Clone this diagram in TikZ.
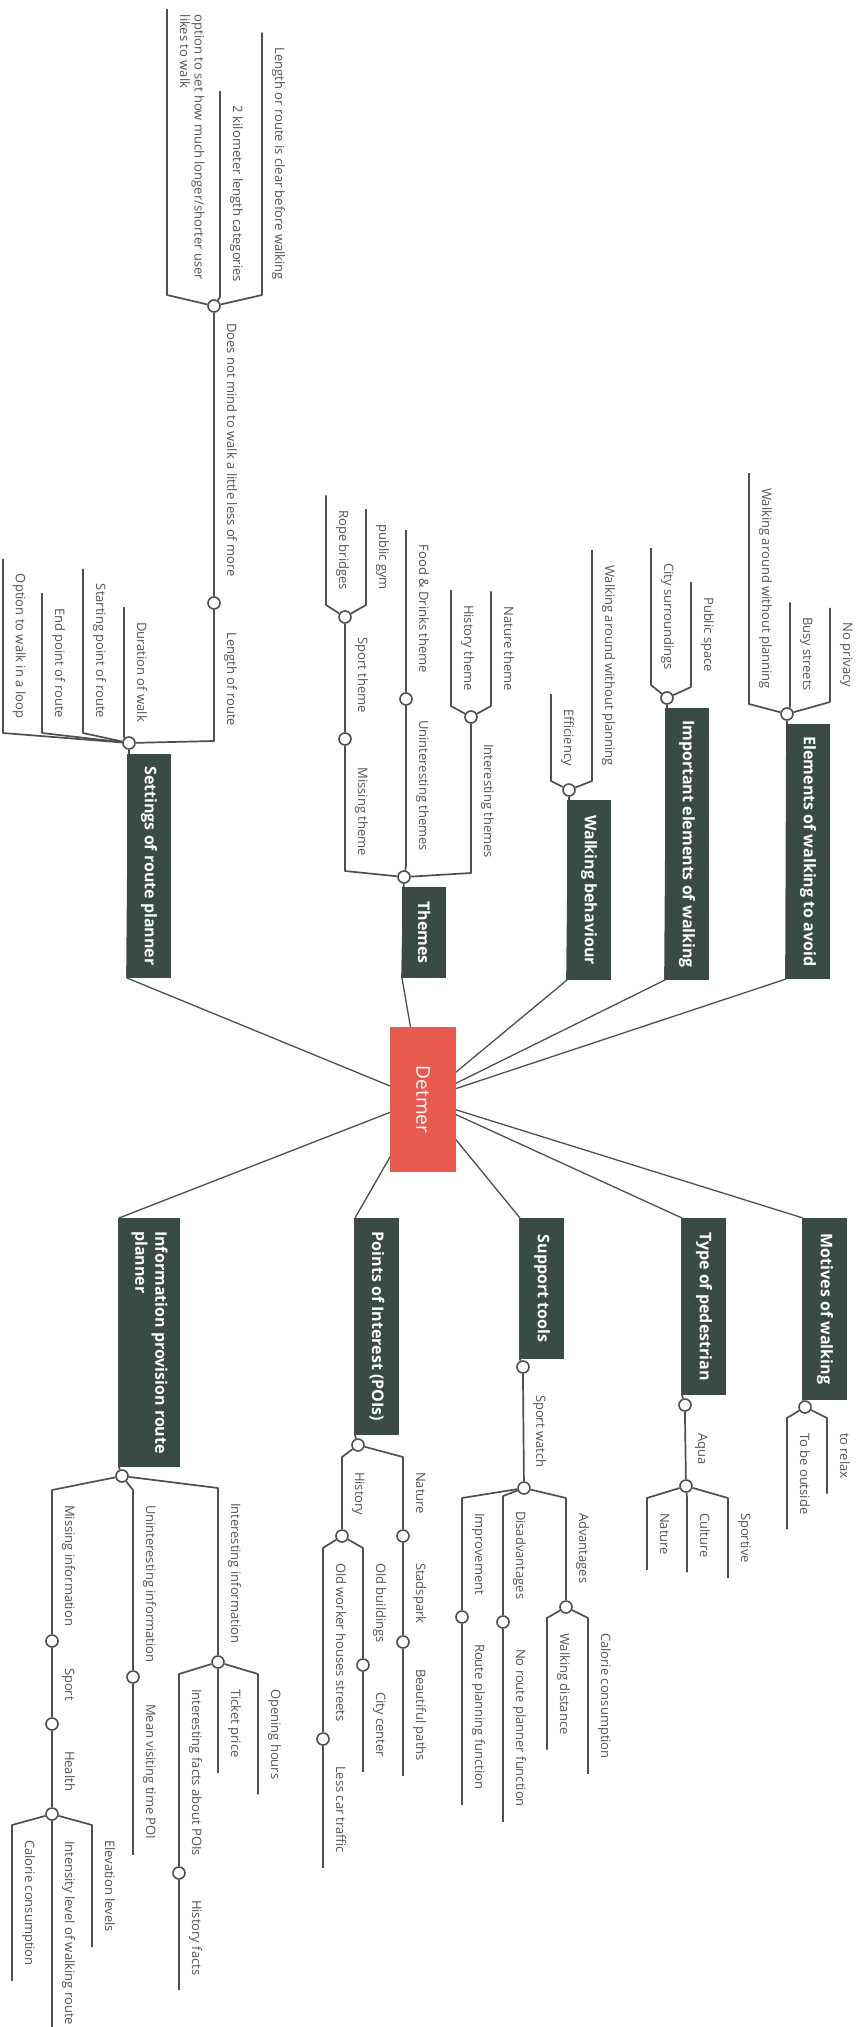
\documentclass[tikz,border=0pt]{standalone}
\usepackage{fontspec}
\setmainfont{Open Sans}
\usetikzlibrary{backgrounds}
\definecolor{rootc}{HTML}{E95A4E}
\definecolor{topicc}{HTML}{3A4A47}
\definecolor{linec}{HTML}{4F4F4F}
\definecolor{labelc}{HTML}{555555}

\begin{document}
\begin{tikzpicture}[x=1pt,y=-1pt,
  rootbox/.style={rotate=-90, fill=rootc, text=white, font=\fontsize{19}{22}\selectfont,
    minimum width=145pt, minimum height=66pt, inner sep=0pt, outer sep=0pt},
  topicbox/.style={rotate=-90, fill=topicc, text=white, font=\bfseries\fontsize{16}{20}\selectfont,
    minimum height=44pt, inner sep=0pt, outer sep=0pt},
  lbl/.style={rotate=-90, font=\fontsize{13}{14.5}\selectfont, text=labelc,
    inner xsep=15pt, inner ysep=10pt, text height=9pt, text depth=3pt, outer sep=0pt},
  lup/.style={lbl, anchor=south east},
  ldn/.style={lbl, anchor=south west},
  dot/.style={circle, draw=linec, fill=white, line width=1.6pt, minimum size=12pt, inner sep=0pt},
  mainln/.style={draw=linec, line width=1.3pt},
  subln/.style={draw=linec, line width=1.7pt, line join=round},
]
\path[use as bounding box] (0,0) rectangle (859,2027);

% central topic
\node[rootbox] (root) at (423,1099.5) {Detmer};

% main topics above the centre (text runs downwards, underline on the left edge)
\node[topicbox, anchor=south east, minimum width=255pt] (tA) at (786,979) {Elements of walking to avoid};
\node[topicbox, anchor=south east, minimum width=272pt] (tB) at (665,980) {Important elements of walking};
\node[topicbox, anchor=south east, minimum width=180pt] (tC) at (567,980) {Walking behaviour};
\node[topicbox, anchor=south east, minimum width=91pt]  (tD) at (402,978) {Themes};
\node[topicbox, anchor=south east, minimum width=224pt] (tE) at (127,978) {Settings of route planner};
% main topics below the centre
\node[topicbox, anchor=south west, minimum width=182pt] (tF) at (803,1218) {Motives of walking};
\node[topicbox, anchor=south west, minimum width=177pt] (tG) at (682,1218) {Type of pedestrian};
\node[topicbox, anchor=south west, minimum width=141pt] (tH) at (520,1218) {Support tools};
\node[topicbox, anchor=south west, minimum width=217pt] (tI) at (355,1218) {Points of Interest (POIs)};
\node[topicbox, anchor=south west, minimum width=249pt, minimum height=61pt, align=left] (tJ) at (119,1218)
  {Information provision route\\planner};

% --- Elements of walking to avoid
\node[lup] (a1) at (830,702) {No privacy};
\node[lup] (a2) at (790,706) {Busy streets};
\node[lup] (a3) at (749,704) {Walking around without planning};
% --- Important elements of walking
\node[lup] (b1) at (691,687) {Public space};
\node[lup] (b2) at (651,685) {City surroundings};
% --- Walking behaviour
\node[lup] (c1) at (592,781) {Walking around without planning};
\node[lup] (c2) at (551,781) {Efficiency};
% --- Themes
\node[lup] (d1)   at (471,873) {Interesting themes};
\node[lup] (d11)  at (491,706) {Nature theme};
\node[lup] (d12)  at (451,706) {History theme};
\node[lup] (d2)   at (406,866) {Uninteresting themes};
\node[lup] (d21)  at (406,688) {Food \& Drinks theme};
\node[lup] (d3)   at (345,871) {Missing theme};
\node[lup] (d31)  at (345,728) {Sport theme};
\node[lup] (d311) at (366,605) {public gym};
\node[lup] (d312) at (326,605) {Rope bridges};
% --- Settings of route planner
\node[lup] (e1)   at (214,741) {Length of route};
\node[lup] (e11)  at (214,592) {Does not mind to walk a little less of more};
\node[lup] (e111) at (262,295) {Length or route is clear before walking};
\node[lup] (e112) at (220,297) {2 kilometer length categories};
\node[lup, align=left] (e113) at (167,295) {option to set how much longer/shorter user\\likes to walk};
\coordinate (e113top) at (167,9);
\node[lup] (e2) at (124,737) {Duration of walk};
\node[lup] (e3) at (83,733)  {Starting point of route};
\node[lup] (e4) at (42,733)  {End point of route};
\node[lup] (e5) at (3,733)   {Option to walk in a loop};
% --- Motives of walking
\node[ldn] (f1) at (827,1418) {to relax};
\node[ldn] (f2) at (787,1418) {To be outside};
% --- Type of pedestrian
\node[ldn] (g1)  at (685,1418) {Aqua};
\node[ldn] (g11) at (728,1498) {Sportive};
\node[ldn] (g12) at (687,1498) {Culture};
\node[ldn] (g13) at (647,1498) {Nature};
% --- Support tools
\node[ldn] (h1)   at (523,1380) {Sport watch};
\node[ldn] (h11)  at (566,1498) {Advantages};
\node[ldn] (h111) at (588,1618) {Calorie consumption};
\node[ldn] (h112) at (547,1618) {Walking distance};
\node[ldn] (h12)  at (503,1496) {Disadvantages};
\node[ldn] (h121) at (503,1634) {No route planner function};
\node[ldn] (h13)  at (462,1498) {Improvement};
\node[ldn] (h131) at (462,1629) {Route planning function};
% --- Points of Interest
\node[ldn] (i1)   at (403,1457) {Nature};
\node[ldn] (i11)  at (403,1548) {Stadspark};
\node[ldn] (i111) at (403,1654) {Beautiful paths};
\node[ldn] (i2)   at (342,1457) {History};
\node[ldn] (i21)  at (363,1548) {Old buildings};
\node[ldn] (i211) at (363,1677) {City center};
\node[ldn] (i22)  at (323,1548) {Old worker houses streets};
\node[ldn] (i221) at (323,1751) {Less car traffic};
% --- Information provision route planner
\node[ldn] (j1)    at (218,1488) {Interesting information};
\node[ldn] (j11)   at (258,1674) {Opening hours};
\node[ldn] (j12)   at (218,1674) {Ticket price};
\node[ldn] (j13)   at (179,1674) {Interesting facts about POIs};
\node[ldn] (j131)  at (179,1885) {History facts};
\node[ldn] (j2)    at (133,1490) {Uninteresting information};
\node[ldn] (j21)   at (133,1689) {Mean visiting time POI};
\node[ldn] (j3)    at (52,1490)  {Missing information};
\node[ldn] (j31)   at (52,1653)  {Sport};
\node[ldn] (j311)  at (52,1736)  {Health};
\node[ldn] (j3111) at (92,1825)  {Elevation levels};
\node[ldn] (j3112) at (52,1826)  {Intensity level of walking route};
\node[ldn] (j3113) at (12,1825)  {Calorie consumption};

% branch knobs
\node[dot] (cA) at (787,714) {};
\node[dot] (cB) at (667,698) {};
\node[dot] (cC) at (569,790) {};
\node[dot] (cD) at (404,877) {};
\node[dot] (cE) at (129,743) {};
\node[dot] (cF) at (805,1407) {};
\node[dot] (cG) at (685,1405) {};
\node[dot] (cH) at (523,1367) {};
\node[dot] (cI) at (358,1445) {};
\node[dot] (cJ) at (122,1476) {};
\node[dot] (cD1)  at (471,717) {};
\node[dot] (cD2)  at (406,699) {};
\node[dot] (cD3)  at (345,739) {};
\node[dot] (cD31) at (345,617) {};
\node[dot] (cE1)  at (214,603) {};
\node[dot] (cE11) at (214,306) {};
\node[dot] (cG1)  at (686,1486) {};
\node[dot] (cH1)  at (524,1488) {};
\node[dot] (cH11) at (566,1607) {};
\node[dot] (cH12) at (503,1622) {};
\node[dot] (cH13) at (462,1617) {};
\node[dot] (cI1)  at (403,1536) {};
\node[dot] (cI11) at (403,1642) {};
\node[dot] (cI2)  at (342,1536) {};
\node[dot] (cI21) at (363,1665) {};
\node[dot] (cI22) at (323,1739) {};
\node[dot] (cJ1)  at (218,1662) {};
\node[dot] (cJ13) at (179,1873) {};
\node[dot] (cJ2)  at (133,1677) {};
\node[dot] (cJ3)  at (52,1641) {};
\node[dot] (cJ31) at (52,1724) {};
\node[dot] (cJ311) at (52,1814) {};

\begin{scope}[on background layer]
\fill[white] (0,0) rectangle (859,2027);
% centre to main topics
\foreach \t in {tA,tB,tC,tD,tE} \draw[mainln] (root.center) -- (\t.south east);
\foreach \t in {tF,tG,tH,tI,tJ} \draw[mainln] (root.center) -- (\t.south west);
% underlines of the main topics
\foreach \t/\c in {tA/cA,tB/cB,tC/cC,tD/cD,tE/cE} \draw[subln] (\t.south east) -- (\c);
\foreach \t/\c in {tF/cF,tG/cG,tH/cH,tI/cI,tJ/cJ} \draw[subln] (\t.south west) -- (\t.south east) -- (\c);
% leaves above the centre
\foreach \p/\n in {cA/a1,cA/a2,cA/a3,cB/b1,cB/b2,cC/c1,cC/c2,cD1/d11,cD1/d12,cD2/d21,
                   cD31/d311,cD31/d312,cE11/e111,cE11/e112,cE/e2,cE/e3,cE/e4,cE/e5}
  \draw[subln] (\p) -- (\n.south east) -- (\n.south west);
% branches above the centre that carry children
\foreach \p/\n/\c in {cD/d1/cD1,cD/d2/cD2,cD/d3/cD3,cD3/d31/cD31,cE/e1/cE1,cE1/e11/cE11}
  \draw[subln] (\p) -- (\n.south east) -- (\c);
\draw[subln] (cE11) -- (e113.south east) -- (e113top);
% leaves below the centre
\foreach \p/\n in {cF/f1,cF/f2,cG1/g11,cG1/g12,cG1/g13,cH11/h111,cH11/h112,cH12/h121,cH13/h131,
                   cI11/i111,cI21/i211,cI22/i221,cJ1/j11,cJ1/j12,cJ13/j131,cJ2/j21,
                   cJ311/j3111,cJ311/j3112,cJ311/j3113}
  \draw[subln] (\p) -- (\n.south west) -- (\n.south east);
% branches below the centre that carry children
\foreach \p/\n/\c in {cG/g1/cG1,cH/h1/cH1,cH1/h11/cH11,cH1/h12/cH12,cH1/h13/cH13,
                      cI/i1/cI1,cI1/i11/cI11,cI/i2/cI2,cI2/i21/cI21,cI2/i22/cI22,
                      cJ/j1/cJ1,cJ1/j13/cJ13,cJ/j2/cJ2,cJ/j3/cJ3,cJ3/j31/cJ31,cJ31/j311/cJ311}
  \draw[subln] (\p) -- (\n.south west) -- (\c);
\end{scope}
\end{tikzpicture}
\end{document}
